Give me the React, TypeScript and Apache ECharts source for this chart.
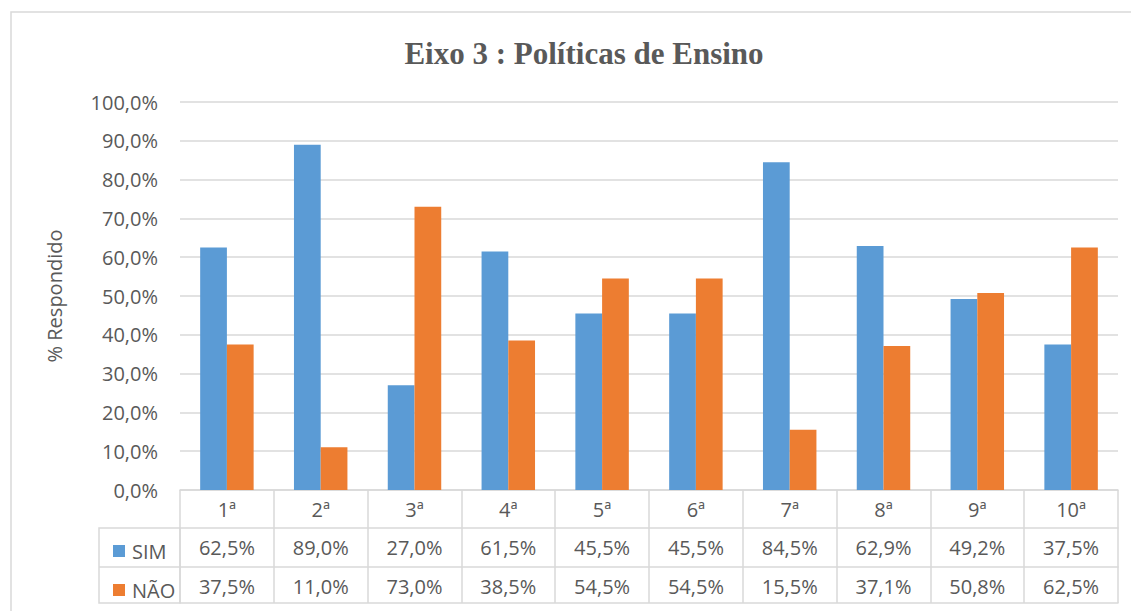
import React, { useEffect, useRef } from "react";
import * as echarts from "echarts";

const categories = ["1ª", "2ª", "3ª", "4ª", "5ª", "6ª", "7ª", "8ª", "9ª", "10ª"];
const simValues = [62.5, 89.0, 27.0, 61.5, 45.5, 45.5, 84.5, 62.9, 49.2, 37.5];
const naoValues = [37.5, 11.0, 73.0, 38.5, 54.5, 54.5, 15.5, 37.1, 50.8, 62.5];
const seriesNames = ["SIM", "NÃO"];
const titleText = "Eixo 3 : Políticas de Ensino";
const yAxisName = "% Respondido";

const fmt = (v: number) => v.toFixed(1).replace(".", ",") + "%";

const FONT = "'Open Sans', 'Liberation Sans', sans-serif";
const TXT = "#595959";
const LINE = "#D9D9D9";
const BLUE = "#5B9BD5";
const ORANGE = "#ED7D31";

export default function App() {
  const ref = useRef<HTMLDivElement>(null);
  useEffect(() => {
    if (!ref.current) return;
    const chart = echarts.init(ref.current, undefined, { renderer: "svg" });
    const gridLeft = 180;
    const gridTop = 102;
    const gridW = 938;
    const gridH = 388;
    const rowH = [38, 39, 36];
    const tableAxis = (idx: number, data: string[], offset: number, tickLen: number, showLabel: boolean) => ({
      type: "category",
      gridIndex: 0,
      position: "bottom",
      offset,
      data,
      boundaryGap: true,
      axisLine: { show: true, lineStyle: { color: LINE, width: 1.5 } },
      axisTick: { show: tickLen > 0, length: tickLen, lineStyle: { color: LINE, width: 1.5 } },
      axisLabel: {
        show: showLabel,
        margin: 9,
        fontSize: 20,
        lineHeight: 20,
        color: TXT,
        fontFamily: FONT,
        interval: 0,
      },
      splitLine: { show: false },
    });
    chart.setOption({
      animation: false,
      backgroundColor: "#ffffff",
      title: {
        text: titleText,
        left: 579,
        top: 33,
        textAlign: "center",
        textStyle: {
          fontFamily: "'Liberation Serif', 'Times New Roman', serif",
          fontWeight: "bold",
          fontSize: 31,
          color: TXT,
        },
      },
      legend: {
        orient: "vertical",
        left: 108,
        top: 536,
        itemWidth: 12,
        itemHeight: 12,
        itemGap: 19,
        icon: "rect",
        data: seriesNames,
        textStyle: { fontSize: 20, lineHeight: 20, color: TXT, fontFamily: FONT, padding: [0, 0, 0, 2] },
      },
      grid: { left: gridLeft, top: gridTop, width: gridW, height: gridH, containLabel: false },
      xAxis: [
        tableAxis(0, categories, 0, rowH[0], true),
        tableAxis(1, simValues.map(fmt), rowH[0], rowH[1], true),
        tableAxis(2, naoValues.map(fmt), rowH[0] + rowH[1], rowH[2], true),
        tableAxis(3, categories.map(() => ""), rowH[0] + rowH[1] + rowH[2], 0, false),
      ],
      yAxis: {
        type: "value",
        min: 0,
        max: 100,
        interval: 10,
        name: yAxisName,
        nameLocation: "middle",
        nameRotate: 90,
        nameGap: 116,
        nameTextStyle: { fontSize: 20, color: TXT, fontFamily: FONT },
        axisLine: { show: false },
        axisTick: { show: false },
        axisLabel: {
          margin: 22,
          fontSize: 20,
          color: TXT,
          fontFamily: FONT,
          formatter: (v: number) => fmt(v),
        },
        splitLine: { lineStyle: { color: LINE, width: 1.5 } },
      },
      series: [
        {
          name: seriesNames[0],
          type: "bar",
          xAxisIndex: 0,
          data: simValues,
          itemStyle: { color: BLUE },
          barGap: "0%",
          barCategoryGap: "43%",
        },
        {
          name: seriesNames[1],
          type: "bar",
          xAxisIndex: 0,
          data: naoValues,
          itemStyle: { color: ORANGE },
          barGap: "0%",
          barCategoryGap: "43%",
        },
      ],
      graphic: [
        {
          type: "rect",
          shape: { x: 11, y: 12, width: 1200, height: 700 },
          style: { fill: "none", stroke: LINE, lineWidth: 1.5 },
          silent: true,
        },
        {
          type: "rect",
          shape: { x: 99, y: gridTop + gridH + rowH[0], width: gridLeft - 99, height: rowH[1] + rowH[2] },
          style: { fill: "none", stroke: LINE, lineWidth: 1.5 },
          silent: true,
        },
        {
          type: "line",
          shape: {
            x1: 99,
            y1: gridTop + gridH + rowH[0] + rowH[1],
            x2: gridLeft,
            y2: gridTop + gridH + rowH[0] + rowH[1],
          },
          style: { stroke: LINE, lineWidth: 1.5 },
          silent: true,
        },
      ],
    });
    return () => chart.dispose();
  }, []);
  return (
    <div
      ref={ref}
      style={{ position: "fixed", left: 0, top: 0, width: 1131, height: 611, background: "#fff" }}
    />
  );
}
